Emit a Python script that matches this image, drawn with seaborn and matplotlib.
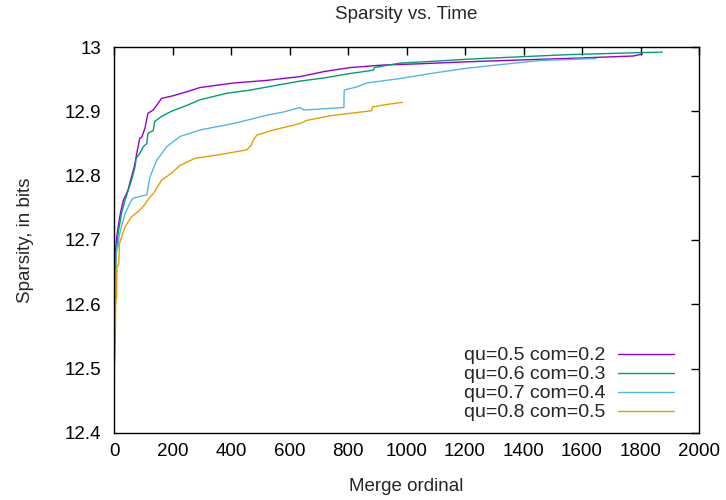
import matplotlib
matplotlib.use("Agg")
import matplotlib.pyplot as plt
import seaborn as sns
import pandas as pd

# Sparsity (bits) against merge ordinal for four parameter settings
labels = ["qu=0.5 com=0.2", "qu=0.6 com=0.3", "qu=0.7 com=0.4", "qu=0.8 com=0.5"]
colors = ["#9400d3", "#009e73", "#56b4e9", "#e69f00"]

x_q05 = [0, 3, 5, 8, 14, 22, 32, 43, 48, 55, 70, 78, 88, 95, 106, 116, 134, 150,
         162, 200, 253, 294, 408, 520, 636, 720, 807, 920, 1050, 1206, 1400, 1600,
         1775, 1807]
y_q05 = [12.47, 12.56, 12.68, 12.70, 12.72, 12.742, 12.762, 12.772, 12.778, 12.79,
         12.815, 12.835, 12.858, 12.86, 12.874, 12.897, 12.902, 12.912, 12.92,
         12.924, 12.931, 12.937, 12.944, 12.948, 12.954, 12.962, 12.968, 12.972,
         12.974, 12.977, 12.980, 12.983, 12.986, 12.989]

x_q06 = [0, 2, 4, 6, 8, 14, 26, 38, 49, 60, 72, 76, 89, 100, 112, 116, 134, 139,
         162, 196, 253, 294, 385, 465, 550, 636, 720, 795, 887, 890, 978, 1100,
         1206, 1400, 1547, 1775, 1874]
y_q06 = [12.47, 12.565, 12.59, 12.62, 12.682, 12.71, 12.742, 12.762, 12.778,
         12.793, 12.814, 12.827, 12.835, 12.845, 12.85, 12.866, 12.87, 12.884,
         12.892, 12.90, 12.91, 12.918, 12.928, 12.933, 12.94, 12.947, 12.952,
         12.958, 12.964, 12.968, 12.975, 12.978, 12.981, 12.985, 12.988, 12.991,
         12.992]

x_q07 = [0, 3, 5, 8, 11, 15, 17, 25, 37, 49, 60, 66, 90, 112, 123, 146, 180, 226,
         294, 350, 408, 470, 522, 580, 636, 650, 786, 787, 830, 864, 978, 1100,
         1206, 1350, 1456, 1648]
y_q07 = [12.48, 12.565, 12.607, 12.679, 12.689, 12.69, 12.705, 12.72, 12.74,
         12.752, 12.762, 12.765, 12.768, 12.770, 12.798, 12.824, 12.845, 12.861,
         12.871, 12.876, 12.881, 12.888, 12.894, 12.899, 12.906, 12.902, 12.906,
         12.933, 12.938, 12.944, 12.951, 12.960, 12.967, 12.974, 12.979, 12.982]

x_q08 = [0, 1, 3, 5, 6, 9, 10, 16, 19, 37, 60, 82, 100, 120, 134, 163, 197, 226,
         277, 351, 454, 470, 476, 488, 545, 636, 659, 738, 881, 884, 938, 986]
y_q08 = [12.465, 12.47, 12.555, 12.565, 12.607, 12.61, 12.658, 12.662, 12.695,
         12.72, 12.736, 12.744, 12.752, 12.765, 12.772, 12.793, 12.804, 12.816,
         12.827, 12.832, 12.840, 12.848, 12.855, 12.863, 12.871, 12.881, 12.886,
         12.893, 12.901, 12.907, 12.911, 12.914]

xs = [x_q05, x_q06, x_q07, x_q08]
ys = [y_q05, y_q06, y_q07, y_q08]

frames = []
for lab, xv, yv in zip(labels, xs, ys):
    frames.append(pd.DataFrame({"merge": xv, "sparsity": yv, "series": lab}))
df = pd.concat(frames, ignore_index=True)

sns.set_style("white")
plt.rcParams["font.family"] = ["Liberation Sans", "DejaVu Sans"]
FS = 13.5
plt.rcParams["font.size"] = FS

fig = plt.figure(figsize=(7.26, 5.0), dpi=100)
ax = fig.add_axes([114 / 726, 1 - 433 / 500, 585 / 726, 386 / 500])

sns.lineplot(data=df, x="merge", y="sparsity", hue="series", hue_order=labels,
             palette=colors, estimator=None, sort=False, linewidth=1.0, ax=ax)

ax.set_xlim(0, 2000)
ax.set_ylim(12.4, 13.0)
ax.set_xticks(range(0, 2001, 200))
ax.set_yticks([12.4, 12.5, 12.6, 12.7, 12.8, 12.9, 13.0])
ax.set_yticklabels(["12.4", "12.5", "12.6", "12.7", "12.8", "12.9", "13"])
ax.tick_params(direction="in", length=6, width=1, top=True, right=True,
               labelsize=FS, colors="black")
ax.tick_params(axis="y", pad=9)
ax.tick_params(axis="x", pad=7)
for s in ax.spines.values():
    s.set_color("black")
    s.set_linewidth(1.0)

ax.set_xlabel("Merge ordinal", fontsize=FS, labelpad=13)
ax.set_ylabel("Sparsity, in bits", fontsize=FS, labelpad=22)
ax.set_title("Sparsity vs. Time", fontsize=FS, pad=20)

handles, labs = ax.get_legend_handles_labels()
ax.legend(handles, labs, loc="lower right", bbox_to_anchor=(0.977, 0.0),
          frameon=False, markerfirst=False, handlelength=2.85,
          labelspacing=0.07, handletextpad=0.65, fontsize=14, borderaxespad=0.2)

fig.savefig("out.png", dpi=100)
